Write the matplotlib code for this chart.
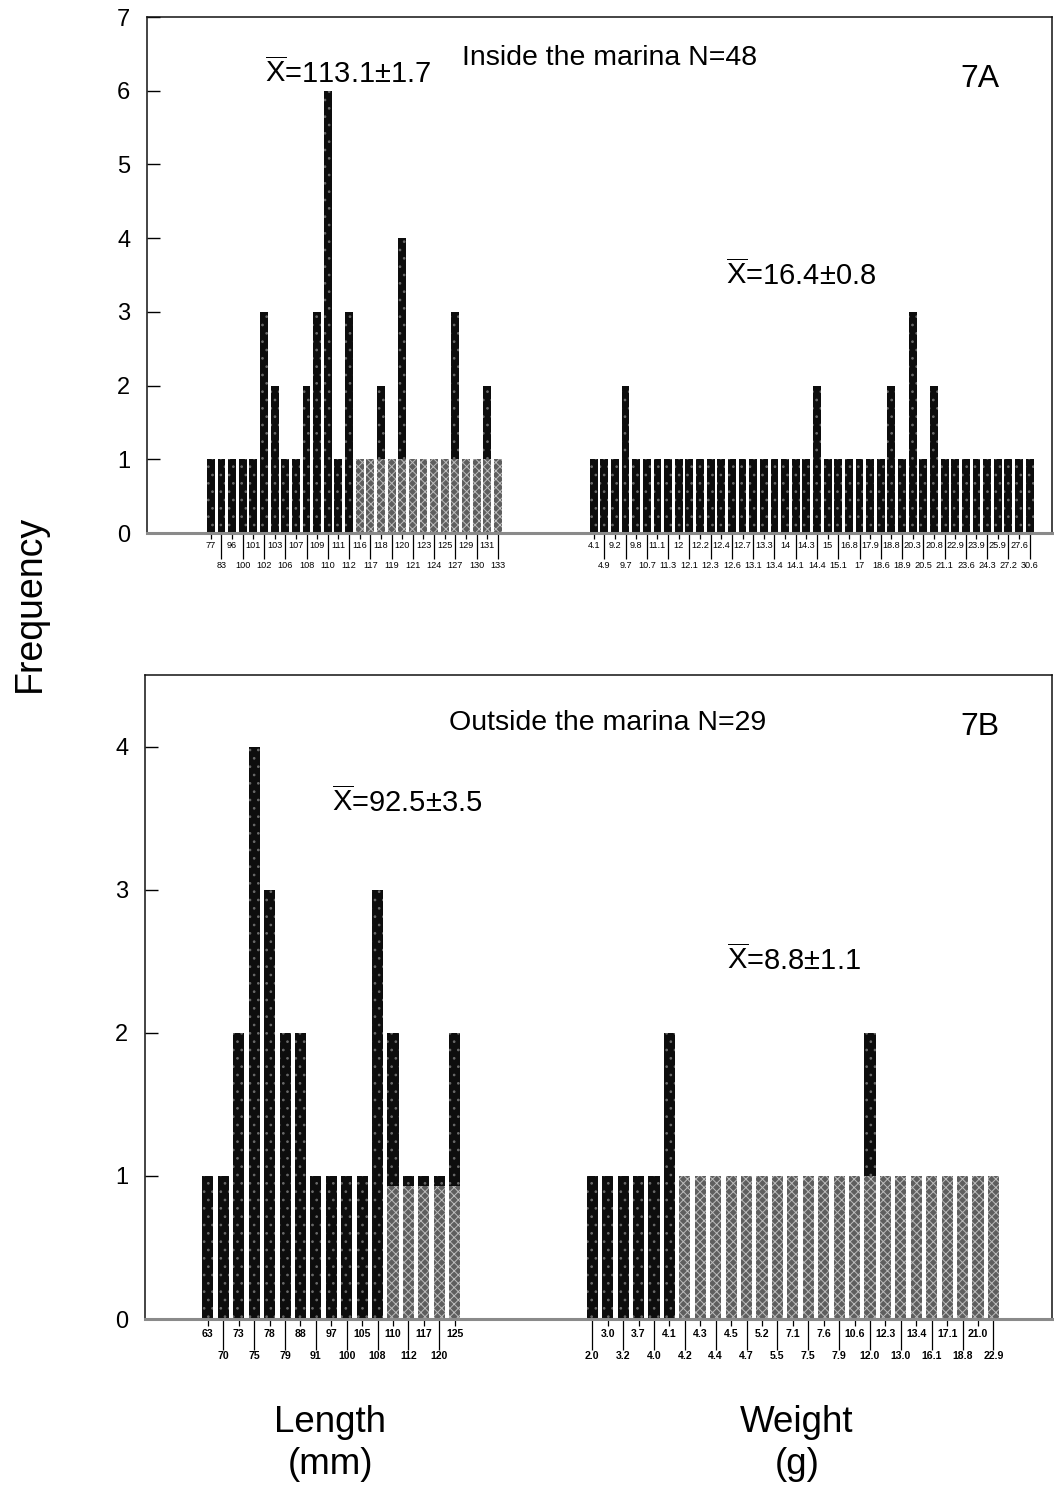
import matplotlib
matplotlib.use('Agg')
import matplotlib.pyplot as plt

plt.rcParams['font.family'] = ['Liberation Sans', 'DejaVu Sans']
plt.rcParams['mathtext.fontset'] = 'custom'
plt.rcParams['mathtext.rm'] = 'Liberation Sans'
plt.rcParams['mathtext.it'] = 'Liberation Sans:italic'
plt.rcParams['mathtext.bf'] = 'Liberation Sans:bold'
plt.rcParams['hatch.linewidth'] = 0.7

# ---------------- data: 7A inside the marina ----------------
len_A_labels = ['77', '83', '96', '100', '101', '102', '103', '106', '107', '108',
                '109', '110', '111', '112', '116', '117', '118', '119', '120', '121',
                '123', '124', '125', '127', '129', '130', '131', '133']
len_A_freq = [1, 1, 1, 1, 1, 3, 2, 1, 1, 2, 3, 6, 1, 3,
              1, 1, 2, 1, 4, 1, 1, 1, 1, 3, 1, 1, 2, 1]
len_A_gray = [0, 0, 0, 0, 0, 0, 0, 0, 0, 0, 0, 0, 0, 0,
              1, 1, 1, 1, 1, 1, 1, 1, 1, 1, 1, 1, 1, 1]

wt_A_labels = ['4.1', '4.9', '9.2', '9.7', '9.8', '10.7', '11.1', '11.3', '12', '12.1',
               '12.2', '12.3', '12.4', '12.6', '12.7', '13.1', '13.3', '13.4', '14', '14.1',
               '14.3', '14.4', '15', '15.1', '16.8', '17', '17.9', '18.6', '18.8', '18.9',
               '20.3', '20.5', '20.8', '21.1', '22.9', '23.6', '23.9', '24.3', '25.9', '27.2',
               '27.6', '30.6']
wt_A_freq = [1, 1, 1, 2, 1, 1, 1, 1, 1, 1,
             1, 1, 1, 1, 1, 1, 1, 1, 1, 1,
             1, 2, 1, 1, 1, 1, 1, 1, 2, 1,
             3, 1, 2, 1, 1, 1, 1, 1, 1, 1,
             1, 1]
wt_A_gray = [0] * 42

# ---------------- data: 7B outside the marina ----------------
len_B_labels = ['63', '70', '73', '75', '78', '79', '88', '91', '97', '100',
                '105', '108', '110', '112', '117', '120', '125']
len_B_freq = [1, 1, 2, 4, 3, 2, 2, 1, 1, 1, 1, 3, 2, 1, 1, 1, 2]
len_B_gray = [0, 0, 0, 0, 0, 0, 0, 0, 0, 0, 0, 0, 0.93, 0.93, 0.93, 0.93, 0.93]

wt_B_labels = ['2.0', '3.0', '3.2', '3.7', '4.0', '4.1', '4.2', '4.3', '4.4', '4.5',
               '4.7', '5.2', '5.5', '7.1', '7.5', '7.6', '7.9', '10.6', '12.0', '12.3',
               '13.0', '13.4', '16.1', '17.1', '18.8', '21.0', '22.9']
wt_B_freq = [1, 1, 1, 1, 1, 2, 1, 1, 1, 1,
             1, 1, 1, 1, 1, 1, 1, 1, 2, 1,
             1, 1, 1, 1, 1, 1, 1]
wt_B_gray = [0, 0, 0, 0, 0, 0, 1, 1, 1, 1,
             1, 1, 1, 1, 1, 1, 1, 1, 1, 1,
             1, 1, 1, 1, 1, 1, 1]

W, H = 1054, 1489
fig = plt.figure(figsize=(W / 100, H / 100), dpi=100)


def fx(px):
    return px / W


def fy(py):
    return 1 - py / H


DARK = '#0d0d0d'
DOT = '#6a6a6a'
GRAY = '#5e5e5e'
GRAYH = '#bdbdbd'


def panel(rect, ylim, yticks, xlim, groups, width, fs, bold, short_len, long_len, pad_s, pad_l):
    ax = fig.add_axes(rect)
    ax.set_xlim(*xlim)
    ax.set_ylim(*ylim)
    maj_pos, maj_lab, min_pos, min_lab = [], [], [], []
    for start, labels, freq, gray, first_row in groups:
        pos = [start + i for i in range(len(labels))]
        ax.bar(pos, freq, width=width, color=DARK, edgecolor=DOT, hatch='..',
               linewidth=0, zorder=2)
        gp = [p for p, g in zip(pos, gray) if g > 0]
        gh = [g for g in gray if g > 0]
        if gp:
            ax.bar(gp, gh, width=width, color=GRAY, edgecolor=GRAYH, hatch='xxxx',
                   linewidth=0, zorder=3)
        for i, (p, lab) in enumerate(zip(pos, labels)):
            if (i + first_row) % 2 == 0:
                maj_pos.append(p)
                maj_lab.append(lab)
            else:
                min_pos.append(p)
                min_lab.append(lab)
    weight = 'bold' if bold else 'normal'
    ax.set_xticks(maj_pos, maj_lab, fontsize=fs, fontweight=weight)
    ax.set_xticks(min_pos, min_lab, minor=True, fontsize=fs, fontweight=weight)
    ax.tick_params(axis='x', which='major', direction='out', length=short_len,
                   width=0.9, pad=pad_s)
    ax.tick_params(axis='x', which='minor', direction='out', length=long_len,
                   width=0.9, pad=pad_l)
    ax.set_yticks(yticks)
    ax.tick_params(axis='y', direction='in', length=9, width=1, labelsize=17, pad=12)
    for s in ['left', 'top', 'right']:
        ax.spines[s].set_linewidth(1.1)
        ax.spines[s].set_color('#111111')
    ax.spines['bottom'].set_color('#8a8a8a')
    ax.spines['bottom'].set_linewidth(2.2)
    ax.spines['bottom'].set_zorder(4)
    return ax


# top panel 7A
axA = panel([fx(147), fy(533), fx(1052 - 147), (533 - 17) / H],
            (0, 7), range(0, 8), (0, 85.1),
            [(6, len_A_labels, len_A_freq, len_A_gray, 0),
             (42, wt_A_labels, wt_A_freq, wt_A_gray, 0)],
            0.74, 6.6, False, 4, 19, 2, 1)

# bottom panel 7B
axB = panel([fx(145), fy(1319), fx(1052 - 145), (1319 - 675) / H],
            (0, 4.5), range(0, 5), (0, 58.8),
            [(4.08, len_B_labels, len_B_freq, len_B_gray, 0),
             (29.0, wt_B_labels, wt_B_freq, wt_B_gray, 1)],
            0.72, 7.6, True, 5, 22, 2, 1)

xbar = r'$\overline{\mathrm{X}}$'
fig.text(fx(610), fy(65), 'Inside the marina N=48', fontsize=20.5, ha='center', va='baseline')
fig.text(fx(348), fy(83), xbar + '=113.1±1.7', fontsize=21, ha='center', va='baseline')
fig.text(fx(980), fy(87), '7A', fontsize=23, ha='center', va='baseline')
fig.text(fx(801), fy(285), xbar + '=16.4±0.8', fontsize=21, ha='center', va='baseline')

fig.text(fx(608), fy(730), 'Outside the marina N=29', fontsize=20.5, ha='center', va='baseline')
fig.text(fx(980), fy(735), '7B', fontsize=23, ha='center', va='baseline')
fig.text(fx(407), fy(812), xbar + '=92.5±3.5', fontsize=21, ha='center', va='baseline')
fig.text(fx(794), fy(970), xbar + '=8.8±1.1', fontsize=21, ha='center', va='baseline')

fig.text(fx(330), fy(1432), 'Length', fontsize=26.5, ha='center', va='baseline')
fig.text(fx(330), fy(1474), '(mm)', fontsize=26.5, ha='center', va='baseline')
fig.text(fx(797), fy(1432), 'Weight', fontsize=26.5, ha='center', va='baseline')
fig.text(fx(797), fy(1474), '(g)', fontsize=26.5, ha='center', va='baseline')

fig.text(fx(30), fy(603), 'Frequency', fontsize=27, rotation=90, ha='center', va='center')

fig.savefig('out.png', dpi=100)
